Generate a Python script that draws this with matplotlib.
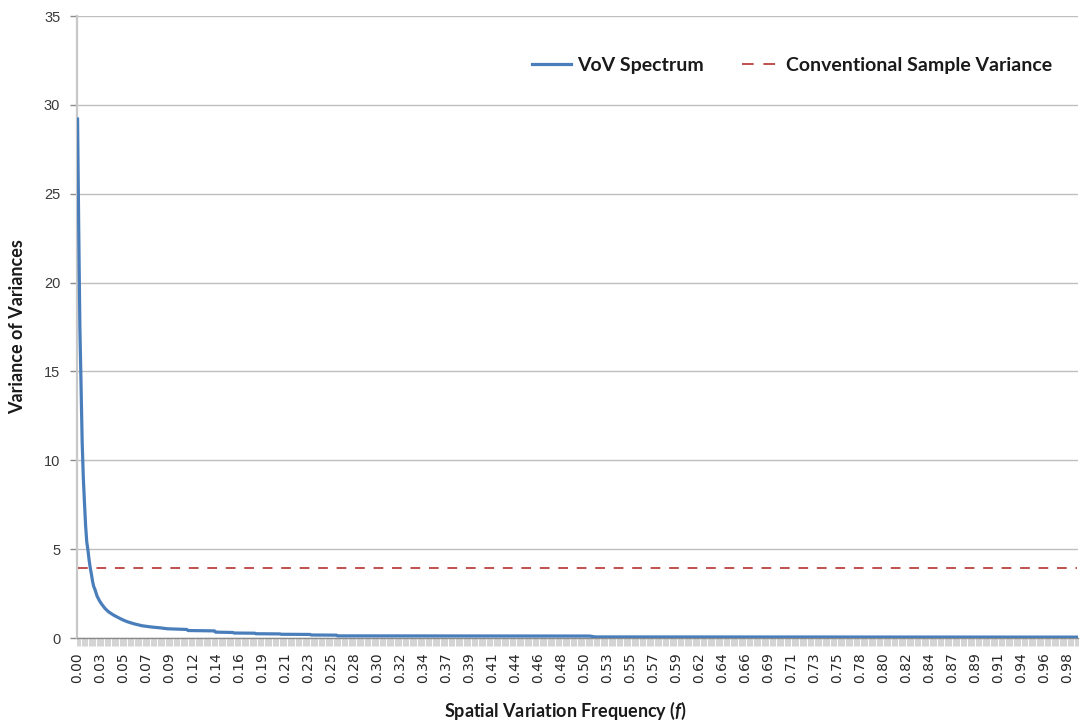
import matplotlib
matplotlib.use("Agg")
import matplotlib.pyplot as plt
from matplotlib.ticker import FixedLocator, MultipleLocator

plt.rcParams["mathtext.fontset"] = "custom"
plt.rcParams["mathtext.it"] = "Lato:italic:bold"
plt.rcParams["mathtext.rm"] = "Lato:bold"

# Frequency categories on the horizontal axis (one label every 20 categories)
n_categories = 870
label_every = 20
freq_labels = [
    "0.00", "0.03", "0.05", "0.07", "0.09", "0.12", "0.14", "0.16", "0.19",
    "0.21", "0.23", "0.25", "0.28", "0.30", "0.32", "0.34", "0.37", "0.39",
    "0.41", "0.44", "0.46", "0.48", "0.50", "0.53", "0.55", "0.57", "0.59",
    "0.62", "0.64", "0.66", "0.69", "0.71", "0.73", "0.75", "0.78", "0.80",
    "0.82", "0.84", "0.87", "0.89", "0.91", "0.94", "0.96", "0.98",
]

# VoV spectrum: category index and variance-of-variances value
vov_index = [0, 1, 2, 3, 4, 5, 6, 7, 8, 9, 10, 11, 12, 13, 14, 15, 17, 19,
             21, 24, 27, 31, 35, 39, 43, 49, 56, 64, 72, 78, 95, 96, 119, 120,
             135, 136, 154, 155, 176, 177, 202, 203, 225, 226, 445, 450, 869]
vov_value = [29.2, 23.0, 17.5, 14.3, 11.0, 9.0, 7.6, 6.3, 5.4, 4.95, 4.4,
             3.95, 3.6, 3.2, 2.9, 2.75, 2.35, 2.1, 1.9, 1.65, 1.47, 1.3, 1.16,
             1.03, 0.92, 0.8, 0.69, 0.62, 0.57, 0.52, 0.48, 0.42, 0.40, 0.33,
             0.31, 0.28, 0.27, 0.24, 0.23, 0.21, 0.20, 0.17, 0.16, 0.12, 0.11,
             0.06, 0.05]

# Conventional sample variance (constant across all frequencies)
conventional_variance = 3.93

fig = plt.figure(figsize=(10.81, 7.25), dpi=100)
ax = fig.add_axes([77 / 1081, 1 - 638 / 725, 1001 / 1081, 622 / 725])

grid_color = "#bfbfbf"
axis_color = "#8c8c8c"
text_color = "#262626"

ax.set_ylim(0, 35)
ax.set_xlim(-0.5, n_categories - 0.5)
ax.yaxis.set_major_locator(MultipleLocator(5))
ax.grid(axis="y", color=grid_color, linewidth=1.0)
ax.set_axisbelow(True)

ax.plot(vov_index, vov_value, color="#4a7ebb", linewidth=2.3,
        solid_joinstyle="round", label="VoV Spectrum", zorder=3)
ax.plot([0, n_categories - 1], [conventional_variance] * 2, color="#c0504d",
        linewidth=1.4, dashes=(5, 4.5), label="Conventional Sample Variance",
        zorder=2)

for side in ("top", "right"):
    ax.spines[side].set_visible(False)
ax.spines["left"].set_color("#c8c8c8")
ax.spines["left"].set_linewidth(1.6)
ax.spines["bottom"].set_color(axis_color)
ax.spines["bottom"].set_linewidth(1.0)

# category tick marks between every category, labels at every 20th
label_pos = list(range(0, n_categories, label_every))[: len(freq_labels)]
ax.xaxis.set_major_locator(FixedLocator(label_pos))
ax.set_xticklabels(freq_labels, rotation=90, fontsize=10,
                   family="DejaVu Sans", color=text_color)
ax.xaxis.set_minor_locator(FixedLocator([i - 0.5 for i in range(n_categories + 1)]))
ax.tick_params(axis="x", which="major", length=0, pad=10)
ax.tick_params(axis="x", which="minor", length=6, width=0.45,
               color="#bdbdbd", direction="out")

ax.tick_params(axis="y", which="major", length=5, width=1.0, color=axis_color,
               labelsize=10.5, labelcolor="#3a3a3a", pad=7)
for lbl in ax.get_yticklabels():
    lbl.set_family("Liberation Sans")

ylab = ax.set_ylabel("Variance of Variances", fontsize=13, fontweight="bold",
                     family="Lato", color="#1a1a1a")
ylab.set_va("center")
ax.yaxis.set_label_coords(-(77 - 18) / 1001, 0.5)
xlab = ax.set_xlabel("Spatial Variation Frequency ($f$)", fontsize=13,
                     fontweight="bold", family="Lato", color="#1a1a1a")
xlab.set_va("center")
ax.xaxis.set_label_coords((566 - 77) / 1001, -(711 - 638) / 622)

leg = ax.legend(loc="upper right", bbox_to_anchor=(0.992, 0.962), ncol=2,
                frameon=False, handlelength=2.0, columnspacing=1.95,
                handletextpad=0.3,
                prop={"family": "Lato", "weight": "bold", "size": 14})
for t in leg.get_texts():
    t.set_color("#1a1a1a")
leg.get_lines()[1].set_dashes((6, 5))

fig.savefig("out.png", dpi=100)
